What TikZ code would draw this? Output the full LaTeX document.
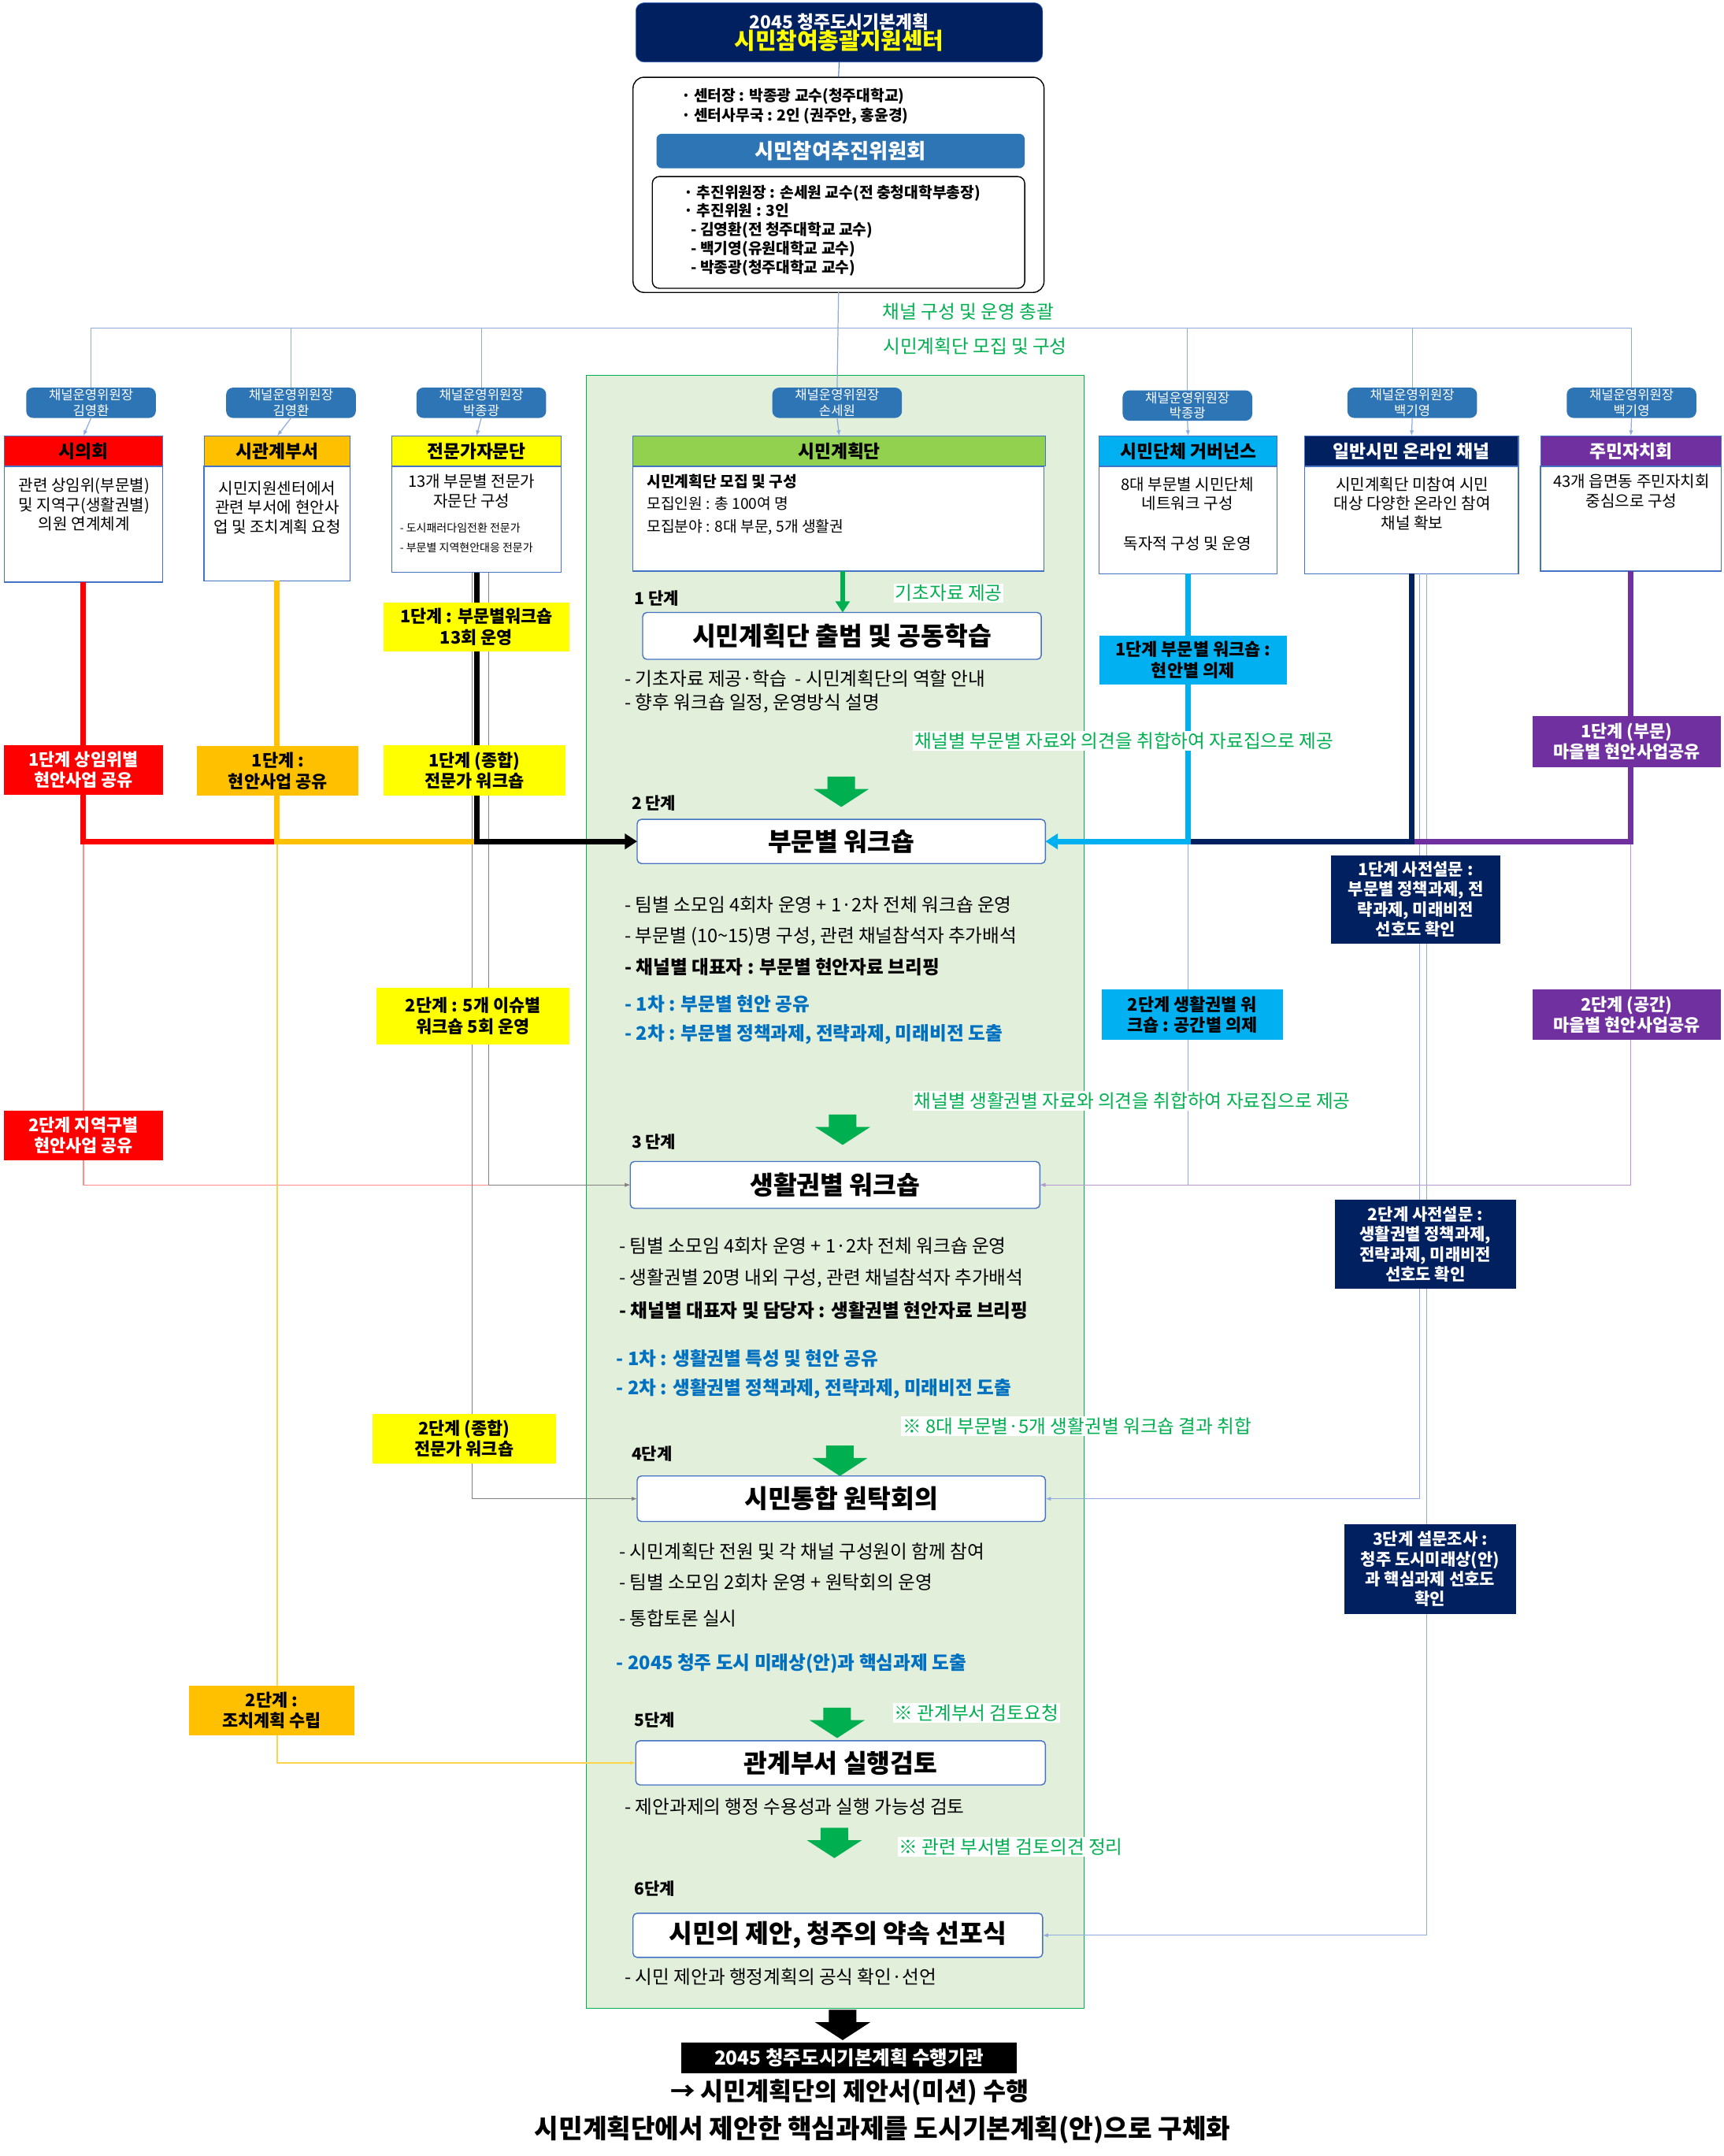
\documentclass[tikz,border=0pt]{standalone}
\usepackage{fontspec}
\setmainfont{Noto Sans CJK KR}
\usetikzlibrary{arrows.meta}
\definecolor{navy}{HTML}{002060}
\definecolor{barblue}{HTML}{2E75B6}
\definecolor{lblue}{HTML}{8FAADC}
\definecolor{gfill}{HTML}{E2EFDA}
\definecolor{gline}{HTML}{00B050}
\definecolor{hgreen}{HTML}{92D050}
\definecolor{orng}{HTML}{FFC000}
\definecolor{yel}{HTML}{FFFF00}
\definecolor{cyn}{HTML}{00B0F0}
\definecolor{purp}{HTML}{7030A0}
\definecolor{btxt}{HTML}{0070C0}
\definecolor{sbord}{HTML}{4472C4}
\newcommand\fz[2]{\fontsize{#1}{#2}\selectfont}
\newcommand\Bx[7]{\node[#1,minimum width={(#5-#3)*1pt},minimum height={(#6-#4)*1pt}] (#2) at ({(#3+#5)/2},{(#4+#6)/2}) {#7};}
\newcommand\Garrow[3]{\fill[#3] ({#1-10},#2) -- ({#1+10},#2) -- ({#1+10},{#2+9}) -- ({#1+20},{#2+9}) -- (#1,{#2+22}) -- ({#1-20},{#2+9}) -- ({#1-10},{#2+9}) -- cycle;}
\begin{document}
\begin{tikzpicture}[x=1pt,y=-1pt,
  every node/.style={outer sep=0pt,inner sep=1pt,align=center},
  pill/.style={fill=barblue,rounded corners=5pt,text=white,font=\fz{9.5}{11}},
  head/.style={draw=sbord,line width=0.6pt,font=\bfseries\fz{13}{15}},
  body/.style={draw=sbord,line width=0.8pt,fill=white},
  stp/.style={draw=sbord,line width=0.8pt,fill=white,rounded corners=3pt,font=\bfseries\fz{18.5}{22}},
  lab/.style={font=\bfseries\fz{12.5}{15}},
  nlab/.style={fill=navy,text=white,font=\bfseries\fz{12}{14.5}},
  gtxt/.style={text=gline,font=\fz{13.5}{16}},
  bul/.style={anchor=west,font=\fz{13.5}{16}},
  bbul/.style={anchor=west,font=\bfseries\fz{13.5}{16}},
  blbul/.style={anchor=west,text=btxt,font=\bfseries\fz{13.5}{16}},
  tln/.style={draw=lblue,line width=0.7pt},
  tarr/.style={-{Latex[length=4pt,width=3pt]}},
  thk/.style={line width=4pt}]
\useasboundingbox[fill=white] (0,0) rectangle (1250,1563);
% green area
\fill[gfill,draw=gline,line width=0.8pt] (425,272) rectangle (786,1456);
% top
\Bx{fill=navy,rounded corners=6pt,draw=sbord}{top}{461}{2}{756}{45}{{\color{white}\bfseries\fz{13}{15}2045 청주도시기본계획}\\[-1pt]{\color{yel}\bfseries\fz{16.5}{19}시민참여총괄지원센터}}
\Bx{draw=black,line width=0.8pt,rounded corners=8pt,fill=white}{info}{459}{56}{757}{212}{}
\node[anchor=west,font=\bfseries\fz{11}{14},align=left] at (493,77) {· 센터장 : 박종광 교수(청주대학교)\\· 센터사무국 : 2인 (권주안, 홍윤경)};
\Bx{fill=barblue,rounded corners=4pt,text=white,font=\bfseries\fz{15}{18}}{bar}{476}{97}{743}{122}{시민참여추진위원회}
\Bx{draw=black,line width=0.8pt,rounded corners=5pt}{inner}{473}{128}{743}{209}{}
\node[anchor=north west,font=\bfseries\fz{11}{13.7},align=left] at (495,133) {· 추진위원장 : 손세원 교수(전 충청대학부총장)\\· 추진위원 : 3인\\\ \ - 김영환(전 청주대학교 교수)\\\ \ - 백기영(유원대학교 교수)\\\ \ - 박종광(청주대학교 교수)};
\draw[line width=0.6pt,draw=sbord] (top.south) -- (info.north);
% hub
\coordinate (hub) at (608,238);
\node[gtxt] at (702,226) {채널 구성 및 운영 총괄};
\node[gtxt] at (707,251) {시민계획단 모집 및 구성};
% pills
\Bx{pill}{p1}{19}{281}{113}{303}{채널운영위원장\\김영환}
\Bx{pill}{p2}{164}{281}{258}{303}{채널운영위원장\\김영환}
\Bx{pill}{p3}{302}{281}{396}{303}{채널운영위원장\\박종광}
\Bx{pill}{p4}{560}{281}{654}{303}{채널운영위원장\\손세원}
\Bx{pill}{p5}{814}{283}{908}{305}{채널운영위원장\\박종광}
\Bx{pill}{p6}{977}{281}{1071}{303}{채널운영위원장\\백기영}
\Bx{pill}{p7}{1136}{281}{1230}{303}{채널운영위원장\\백기영}
\draw[tln] (info.south) -- (p4.north);
\foreach \p in {p1,p2,p3,p5,p6,p7} \draw[tln] (hub) -| (\p.north);
% headers
\Bx{head,fill=red}{h1}{3}{316}{118}{338}{시의회}
\Bx{head,fill=orng}{h2}{148}{316}{254}{338}{시관계부서}
\Bx{head,fill=yel}{h3}{284}{316}{407}{338}{전문가자문단}
\Bx{head,fill=hgreen}{h4}{459}{316}{758}{338}{시민계획단}
\Bx{head,fill=cyn}{h5}{797}{316}{926}{338}{시민단체 거버넌스}
\Bx{head,fill=navy,text=white}{h6}{946}{316}{1101}{338}{일반시민 온라인 채널}
\Bx{head,fill=purp,text=white}{h7}{1117}{316}{1248}{338}{주민자치회}
\foreach \i in {1,...,7} \draw[tln,tarr] (p\i.south) -- (h\i.north);
% bodies
\Bx{body}{b1}{3}{338}{118}{422}{}
\Bx{body}{b2}{148}{338}{254}{421}{}
\Bx{body}{b3}{284}{338}{407}{415}{}
\Bx{body}{b4}{459}{338}{757}{414}{}
\Bx{body}{b5}{797}{338}{926}{416}{}
\Bx{body}{b6}{946}{338}{1101}{416}{}
\Bx{body}{b7}{1117}{338}{1248}{414}{}
\node[font=\fz{11.5}{14}] at (61,366) {관련 상임위(부문별)\\및 지역구(생활권별)\\의원 연계체계};
\node[font=\fz{11.5}{14}] at (201,368) {시민지원센터에서\\관련 부서에 현안사\\업 및 조치계획 요청};
\node[font=\fz{11.5}{14}] at (342,356) {13개 부문별 전문가\\자문단 구성};
\node[anchor=west,font=\fz{8}{10}] at (289,383) {- 도시패러다임전환 전문가};
\node[anchor=west,font=\fz{8}{10}] at (289,397) {- 부문별 지역현안대응 전문가};
\node[anchor=west,font=\bfseries\fz{11}{13}] at (468,349) {시민계획단 모집 및 구성};
\node[anchor=west,font=\fz{11}{13}] at (468,365) {모집인원 : 총 100여 명};
\node[anchor=west,font=\fz{11}{13}] at (468,382) {모집분야 : 8대 부문, 5개 생활권};
\node[font=\fz{11.5}{14}] at (861,358) {8대 부문별 시민단체\\네트워크 구성};
\node[font=\fz{11.5}{14}] at (861,394) {독자적 구성 및 운영};
\node[font=\fz{11.5}{14}] at (1024,365) {시민계획단 미참여 시민\\대상 다양한 온라인 참여\\채널 확보};
\node[font=\fz{11.5}{14}] at (1183,356) {43개 읍면동 주민자치회\\중심으로 구성};
% steps
\Bx{stp}{s1}{466}{444}{755}{478}{시민계획단 출범 및 공동학습}
\Bx{stp}{s2}{462}{594}{758}{626}{부문별 워크숍}
\Bx{stp}{s3}{457}{842}{754}{876}{생활권별 워크숍}
\Bx{stp}{s4}{462}{1070}{758}{1103}{시민통합 원탁회의}
\Bx{stp}{s5}{461}{1262}{758}{1294}{관계부서 실행검토}
\Bx{stp}{s6}{459}{1387}{756}{1419}{시민의 제안, 청주의 약속 선포식}
% thin connectors
\draw[draw=red!45,line width=0.7pt,tarr] (b1.south) |- (s3.west);
\draw[draw=orng!70,line width=0.7pt,tarr] (b2.south) |- (s5.west);
\draw[draw=gray,line width=0.6pt,tarr] ([xshift=9pt]b3.south) |- (s3.west);
\draw[draw=gray,line width=0.6pt,tarr] ([xshift=-3pt]b3.south) |- (s4.west);
\draw[tln,tarr] (b5.south) |- (s3.east);
\draw[draw=purp!50,line width=0.7pt,tarr] (b7.south) |- (s3.east);
\draw[tln,tarr] ([xshift=6pt]b6.south) |- (s4.east);
\draw[tln,tarr] ([xshift=11pt]b6.south) |- (s6.east);
% thick connectors
\draw[thk,red] (b1.south) -- (b1.south |- s2.west) -- (b2.south |- s2.west);
\draw[thk,orng] (b2.south) -- (b2.south |- s2.west) -- (b3.south |- s2.west);
\draw[thk,black,-{Triangle[length=9pt,width=11pt]}] (b3.south) -- (b3.south |- s2.west) -- (s2.west);
\draw[thk,purp] (b7.south) -- (b7.south |- s2.east) -- (b6.south |- s2.east);
\draw[thk,navy] (b6.south) -- (b6.south |- s2.east) -- (b5.south |- s2.east);
\draw[thk,cyn,-{Triangle[length=9pt,width=11pt]}] (b5.south) -- (b5.south |- s2.east) -- (s2.east);
\draw[line width=3pt,gline,-{Triangle[length=8pt,width=10pt]}] ([xshift=3pt]b4.south) -- ([xshift=3pt]b4.south |- s1.north);
% step labels and bullets
\node[anchor=west,font=\bfseries\fz{12}{14}] at (459,434) {1 단계};
\node[fill=white,gtxt] at (688,430) {기초자료 제공};
\node[bul] at (452,492) {- 기초자료 제공·학습 \ - 시민계획단의 역할 안내};
\node[bul] at (452,510) {- 향후 워크숍 일정, 운영방식 설명};
\node[fill=white,gtxt] at (815,537) {채널별 부문별 자료와 의견을 취합하여 자료집으로 제공};
\Garrow{610}{563}{gline}
\node[anchor=west,font=\bfseries\fz{12}{14}] at (457,582) {2 단계};
\node[bul] at (452,656) {- 팀별 소모임 4회차 운영 + 1·2차 전체 워크숍 운영};
\node[bul] at (452,679) {- 부문별 (10\textasciitilde15)명 구성, 관련 채널참석자 추가배석};
\node[bbul] at (452,701) {- 채널별 대표자 : 부문별 현안자료 브리핑};
\node[blbul] at (452,728) {- 1차 : 부문별 현안 공유};
\node[blbul] at (452,750) {- 2차 : 부문별 정책과제, 전략과제, 미래비전 도출};
\node[fill=white,gtxt] at (821,798) {채널별 생활권별 자료와 의견을 취합하여 자료집으로 제공};
\Garrow{611}{808}{gline}
\node[anchor=west,font=\bfseries\fz{12}{14}] at (457,828) {3 단계};
\node[bul] at (448,903) {- 팀별 소모임 4회차 운영 + 1·2차 전체 워크숍 운영};
\node[bul] at (448,927) {- 생활권별 20명 내외 구성, 관련 채널참석자 추가배석};
\node[bbul] at (448,950) {- 채널별 대표자 및 담당자 : 생활권별 현안자료 브리핑};
\node[blbul] at (446,985) {- 1차 : 생활권별 특성 및 현안 공유};
\node[blbul] at (446,1007) {- 2차 : 생활권별 정책과제, 전략과제, 미래비전 도출};
\node[fill=white,gtxt] at (781,1034) {※ 8대 부문별·5개 생활권별 워크숍 결과 취합};
\Garrow{609}{1048}{gline}
\node[anchor=west,font=\bfseries\fz{12}{14}] at (457,1054) {4단계};
\node[bul] at (448,1125) {- 시민계획단 전원 및 각 채널 구성원이 함께 참여};
\node[bul] at (448,1147) {- 팀별 소모임 2회차 운영 + 원탁회의 운영};
\node[bul] at (448,1173) {- 통합토론 실시};
\node[blbul] at (446,1206) {- 2045 청주 도시 미래상(안)과 핵심과제 도출};
\Garrow{607}{1238}{gline}
\node[anchor=west,font=\bfseries\fz{12}{14}] at (459,1247) {5단계};
\node[fill=white,gtxt] at (708,1242) {※ 관계부서 검토요청};
\node[bul] at (452,1310) {- 제안과제의 행정 수용성과 실행 가능성 검토};
\Garrow{605}{1325}{gline}
\node[fill=white,gtxt] at (733,1339) {※ 관련 부서별 검토의견 정리};
\node[anchor=west,font=\bfseries\fz{12}{14}] at (459,1369) {6단계};
\node[bul] at (452,1433) {- 시민 제안과 행정계획의 공식 확인·선언};
% bottom
\Garrow{611}{1457}{black}
\Bx{fill=black,text=white,font=\bfseries\fz{14}{17}}{fin}{494}{1481}{737}{1503}{2045 청주도시기본계획 수행기관}
\node[font=\bfseries\fz{18}{22}] at (616,1517) {→ 시민계획단의 제안서(미션) 수행};
\node[font=\bfseries\fz{19}{23}] at (640,1544) {시민계획단에서 제안한 핵심과제를 도시기본계획(안)으로 구체화};
% side labels
\Bx{lab,fill=yel}{l1}{278}{437}{413}{472}{1단계 : 부문별워크숍\\13회 운영}
\Bx{lab,fill=red,text=white}{l2}{3}{540}{118}{576}{1단계 상임위별\\현안사업 공유}
\Bx{lab,fill=orng}{l3}{143}{541}{260}{577}{1단계 :\\현안사업 공유}
\Bx{lab,fill=yel}{l4}{278}{540}{410}{577}{1단계 (종합)\\전문가 워크숍}
\Bx{lab,fill=yel}{l5}{273}{716}{413}{757}{2단계 : 5개 이슈별\\워크숍 5회 운영}
\Bx{lab,fill=red,text=white}{l6}{3}{805}{118}{841}{2단계 지역구별\\현안사업 공유}
\Bx{lab,fill=yel}{l7}{270}{1025}{403}{1061}{2단계 (종합)\\전문가 워크숍}
\Bx{lab,fill=orng}{l8}{137}{1222}{257}{1258}{2단계 :\\조치계획 수립}
\Bx{lab,fill=cyn}{l9}{797}{461}{933}{496}{1단계 부문별 워크숍 :\\현안별 의제}
\Bx{lab,fill=purp,text=white}{l10}{1111}{519}{1248}{556}{1단계 (부문)\\마을별 현안사업공유}
\Bx{nlab}{l11}{965}{620}{1088}{684}{1단계 사전설문 :\\부문별 정책과제, 전\\략과제, 미래비전\\선호도 확인}
\Bx{lab,fill=cyn}{l12}{799}{717}{930}{754}{2단계 생활권별 워\\크숍 : 공간별 의제}
\Bx{lab,fill=purp,text=white}{l13}{1111}{717}{1248}{754}{2단계 (공간)\\마을별 현안사업공유}
\Bx{nlab}{l14}{968}{870}{1099}{934}{2단계 사전설문 :\\생활권별 정책과제,\\전략과제, 미래비전\\선호도 확인}
\Bx{nlab}{l15}{975}{1105}{1099}{1170}{3단계 설문조사 :\\청주 도시미래상(안)\\과 핵심과제 선호도\\확인}
\end{tikzpicture}
\end{document}
